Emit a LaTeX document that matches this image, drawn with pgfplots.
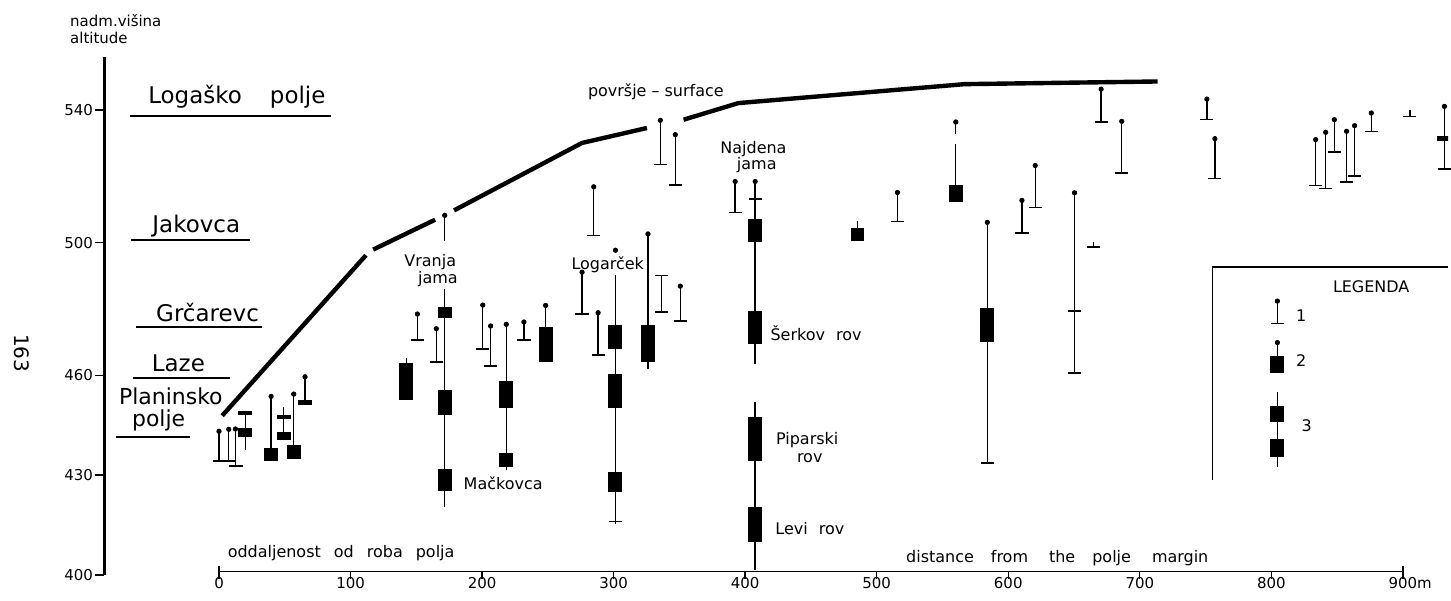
\documentclass[border=0pt]{standalone}
\usepackage{fontspec}
\setmainfont{DejaVu Sans}
\usepackage{pgfplots}
\pgfplotsset{compat=1.18}
\newcommand\fA{\fontsize{11.5}{13}\selectfont}
\newcommand\fAs{\fontsize{11}{12}\selectfont}
\newcommand\fB{\fontsize{8}{9.5}\selectfont}
\newcommand\fC{\fontsize{7.5}{9}\selectfont}
\begin{document}
\begin{tikzpicture}
\begin{axis}[
  width=725.5pt, height=301pt, scale only axis,
  xmin=-166.5, xmax=934.4, ymin=392.19, ymax=573.03,
  hide axis, clip mode=individual,
]
\path (rel axis cs:0,0) rectangle (rel axis cs:1,1);

% surface line (povrsje)
\addplot[black, line width=2.2pt, unbounded coords=jump] coordinates {
(2.4,447.9)(111.7,496.2)(111.7,nan)
(117.2,497.9)(164.3,506.9)(164.3,nan)
(178.7,509.7)(276.0,530.0)(325.3,534.5)(325.3,nan)
(353.2,537.0)(394.9,542.0)(566.9,547.7)(713.6,548.5)
};

% thin vertical lines
\addplot[black, line width=0.7pt, unbounded coords=jump] coordinates {
(0,443.2)(0,434.3)(0,nan)
(7.4,443.8)(7.4,434.3)(7.4,nan)
(12.5,443.9)(12.5,432.8)(12.5,nan)
(20.1,448.7)(20.1,437.6)(20.1,nan)
(39.6,453.7)(39.6,438.1)(39.6,nan)
(49.2,450.5)(49.2,440.5)(49.2,nan)
(56.8,454.4)(56.8,439.1)(56.8,nan)
(65.4,459.6)(65.4,452.0)(65.4,nan)
(142.5,465.4)(142.5,460)(142.5,nan)
(150.8,478.5)(150.8,470.7)(150.8,nan)
(165.2,474.1)(165.2,464.1)(165.2,nan)
(171.6,508.2)(171.6,500.4)(171.6,nan)
(171.6,485.9)(171.6,420.3)(171.6,nan)
(200.5,481.2)(200.5,467.9)(200.5,nan)
(206.5,474.9)(206.5,462.9)(206.5,nan)
(218.4,475.4)(218.4,431.6)(218.4,nan)
(231.8,476.1)(231.8,470.6)(231.8,nan)
(248.3,481.1)(248.3,470)(248.3,nan)
(276.0,491.1)(276.0,478.6)(276.0,nan)
(284.9,516.8)(284.9,502.1)(284.9,nan)
(288.2,478.9)(288.2,466.1)(288.2,nan)
(301.4,490.4)(301.4,415.3)(301.4,nan)
(326.1,502.6)(326.1,461.9)(326.1,nan)
(336.3,490.1)(336.3,479.2)(336.3,nan)
(335.5,536.8)(335.5,523.5)(335.5,nan)
(346.9,532.5)(346.9,517.3)(346.9,nan)
(350.7,486.9)(350.7,476.4)(350.7,nan)
(392.4,518.4)(392.4,509.1)(392.4,nan)
(407.6,518.4)(407.6,463.4)(407.6,nan)
(407.6,451.9)(407.6,401.6)(407.6,nan)
(485.4,506.6)(485.4,503)(485.4,nan)
(515.8,515.1)(515.8,506.3)(515.8,nan)
(560.1,536.3)(560.1,532.8)(560.1,nan)
(560.1,529.8)(560.1,515)(560.1,nan)
(584.1,506.1)(584.1,433.6)(584.1,nan)
(610.4,512.7)(610.4,502.9)(610.4,nan)
(620.5,523.2)(620.5,510.6)(620.5,nan)
(650.4,515.0)(650.4,460.7)(650.4,nan)
(665.0,500.1)(665.0,498.6)(665.0,nan)
(670.6,546.2)(670.6,536.3)(670.6,nan)
(686.3,536.5)(686.3,521.0)(686.3,nan)
(751.0,543.2)(751.0,537.0)(751.0,nan)
(757.1,531.3)(757.1,519.3)(757.1,nan)
(833.7,531.0)(833.7,517.2)(833.7,nan)
(841.3,533.2)(841.3,516.3)(841.3,nan)
(847.9,537.0)(847.9,527.2)(847.9,nan)
(857.2,533.5)(857.2,518.3)(857.2,nan)
(863.3,535.2)(863.3,520.0)(863.3,nan)
(876.0,539.0)(876.0,533.5)(876.0,nan)
(905.3,540.0)(905.3,538.0)(905.3,nan)
(931.6,541.0)(931.6,522.2)(931.6,nan)
(804.6,482.4)(804.6,475.7)(804.6,nan)
(804.6,469.9)(804.6,462)(804.6,nan)
(804.6,454.9)(804.6,432.4)
};

% filled rectangles (thick segments)
\addplot[black, line width=7pt, unbounded coords=jump] coordinates {
(20.1,441.4)(20.1,444.1)(20.1,nan)
(20.1,448.1)(20.1,449.3)(20.1,nan)
(39.6,434.3)(39.6,438.1)(39.6,nan)
(49.2,446.9)(49.2,448.1)(49.2,nan)
(49.2,440.6)(49.2,442.9)(49.2,nan)
(56.8,434.8)(56.8,439.1)(56.8,nan)
(65.4,451.2)(65.4,452.7)(65.4,nan)
(142.5,452.7)(142.5,463.9)(142.5,nan)
(171.6,477.4)(171.6,480.6)(171.6,nan)
(171.6,448.1)(171.6,455.6)(171.6,nan)
(171.6,425.3)(171.6,431.8)(171.6,nan)
(218.4,450.1)(218.4,458.4)(218.4,nan)
(218.4,432.6)(218.4,436.6)(218.4,nan)
(248.3,464.2)(248.3,474.7)(248.3,nan)
(301.4,468.1)(301.4,475.2)(301.4,nan)
(301.4,450.1)(301.4,460.6)(301.4,nan)
(301.4,425.0)(301.4,431.0)(301.4,nan)
(326.1,464.2)(326.1,475.2)(326.1,nan)
(407.6,500.1)(407.6,507.2)(407.6,nan)
(407.6,469.4)(407.6,479.4)(407.6,nan)
(407.6,434.3)(407.6,447.4)(407.6,nan)
(407.6,410.0)(407.6,420.3)(407.6,nan)
(485.4,500.4)(485.4,504.4)(485.4,nan)
(560.1,512.3)(560.1,517.2)(560.1,nan)
(584.1,470.2)(584.1,480.4)(584.1,nan)
(931.6,530.5)(931.6,532.2)(931.6,nan)
(804.6,460.9)(804.6,465.9)(804.6,nan)
(804.6,445.9)(804.6,450.9)(804.6,nan)
(804.6,435.4)(804.6,440.9)
};

% dots at the top of the sticks
\addplot[black, only marks, mark=*, mark size=1.1pt] coordinates {
(0,443.2)(7.4,443.8)(12.5,443.9)(39.6,453.7)(56.8,454.4)(65.4,459.6)
(150.8,478.5)(165.2,474.1)(171.6,508.2)(200.5,481.2)(206.5,474.9)
(218.4,475.4)(231.8,476.1)(248.3,481.1)(276.0,491.1)(284.9,516.8)
(288.2,478.9)(301.4,497.7)(326.1,502.6)(335.5,536.8)(346.9,532.5)
(350.7,486.9)(392.4,518.4)(407.6,518.4)(515.8,515.1)(560.1,536.3)
(584.1,506.1)(610.4,512.7)(620.5,523.2)(650.4,515.0)(670.6,546.2)
(686.3,536.5)(751.0,543.2)(757.1,531.3)(833.7,531.0)(841.3,533.2)
(847.9,537.0)(857.2,533.5)(863.3,535.2)(876.0,539.0)(931.6,541.0)
(804.6,482.4)(804.6,469.9)
};

% horizontal bars at the bottom of the sticks
\addplot[black, only marks, mark=-, mark size=3.3pt, mark options={line width=0.8pt}] coordinates {
(0.4,434.3)(8,434.3)(12.9,432.8)(150.8,470.7)(165.2,464.1)(200.5,467.9)
(206.5,462.9)(231.8,470.6)(284.9,502.1)(276.0,478.6)(288.2,466.1)
(301.4,416.0)(336.3,490.1)(336.3,479.2)(335.5,523.5)(346.9,517.3)
(350.7,476.4)(392.4,509.1)(407.6,513.2)(515.8,506.3)(584.1,433.6)
(610.4,502.9)(620.5,510.6)(650.4,479.4)(650.4,460.7)(665.0,498.6)
(670.6,536.3)(686.3,521.0)(751.0,537.0)(757.1,519.3)(833.7,517.2)
(841.3,516.3)(847.9,527.2)(857.2,518.3)(863.3,520.0)(876.0,533.5)
(905.3,538.0)(931.6,522.2)(804.6,475.7)
};

% y axis
\draw[line width=1.5pt] (axis cs:-87.4,400) -- (axis cs:-87.4,556);
\pgfplotsinvokeforeach{400,430,460,500,540}{
  \draw[line width=0.8pt] (axis cs:-94.4,#1) -- (axis cs:-87.4,#1);
  \node[anchor=east, inner sep=0pt, font=\fC] at (axis cs:-95.5,#1) {#1};
}
\node[anchor=base west, inner sep=0pt, font=\fC] at (axis cs:-113.4,565.0) {nadm.višina};
\node[anchor=base west, inner sep=0pt, font=\fC] at (axis cs:-113.4,560.0) {altitude};
\node[rotate=-90, inner sep=0pt, font=\fontsize{10}{12}\selectfont] at (axis cs:-149.8,466.7) {163};

% x axis
\draw[line width=0.7pt] (axis cs:0,401) -- (axis cs:900,401);
\draw[line width=0.7pt] (axis cs:0,398.8) -- (axis cs:0,402.6);
\draw[line width=0.7pt] (axis cs:900,398.8) -- (axis cs:900,402.6);
\pgfplotsinvokeforeach{100,200,300,400,500,600,700,800}{
  \draw[line width=0.7pt] (axis cs:#1,401) -- (axis cs:#1,398.8);
}
\pgfplotsinvokeforeach{0,100,200,300,400,500,600,700,800}{
  \node[anchor=base, inner sep=0pt, font=\fC] at (axis cs:#1,395.8) {#1};
}
\node[anchor=base, inner sep=0pt, font=\fC] at (axis cs:900,395.8) {900\rlap{m}};
\node[anchor=base west, inner sep=0pt, font=\fB] at (axis cs:6.4,405.3)
  {oddaljenost\hspace{4pt} od\hspace{4pt} roba\hspace{4pt} polja};
\node[anchor=base west, inner sep=0pt, font=\fB] at (axis cs:522.1,403.6)
  {distance\hspace{6pt} from\hspace{8pt} the\hspace{6pt} polje\hspace{8pt} margin};

% left level labels
\draw[line width=0.9pt] (axis cs:-67.4,538.2) -- (axis cs:85.1,538.2);
\draw[line width=0.9pt] (axis cs:-66.6,500.7) -- (axis cs:23.5,500.7);
\draw[line width=0.9pt] (axis cs:-63.3,474.7) -- (axis cs:32.5,474.7);
\draw[line width=0.9pt] (axis cs:-65.4,459.3) -- (axis cs:8.0,459.3);
\draw[line width=0.9pt] (axis cs:-78.0,441.5) -- (axis cs:-21.8,441.5);
\node[anchor=base, inner sep=0pt, font=\fA] at (axis cs:-18.2,541.8) {Logaško};
\node[anchor=base, inner sep=0pt, font=\fA] at (axis cs:59.8,541.8) {polje};
\node[anchor=base, inner sep=0pt, font=\fA] at (axis cs:-17.3,503.0) {Jakovca};
\node[anchor=base, inner sep=0pt, font=\fA] at (axis cs:-8.7,476.4) {Grčarevc};
\node[anchor=base, inner sep=0pt, font=\fA] at (axis cs:-30.9,461.1) {Laze};
\node[anchor=base, inner sep=0pt, font=\fAs] at (axis cs:-36.6,451.2) {Planinsko};
\node[anchor=base, inner sep=0pt, font=\fAs] at (axis cs:-45.9,444.5) {polje};

% cave labels
\node[anchor=base, inner sep=0pt, font=\fB] at (axis cs:160.6,492.7) {Vranja};
\node[anchor=base, inner sep=0pt, font=\fB] at (axis cs:166.4,487.7) {jama};
\node[anchor=base, inner sep=0pt, font=\fB] at (axis cs:216.0,425.6) {Mačkovca};
\node[anchor=base, inner sep=0pt, font=\fB] at (axis cs:295.5,491.9) {Logarček};
\node[anchor=base, inner sep=0pt, font=\fB] at (axis cs:332.1,544.0) {površje – surface};
\node[anchor=base, inner sep=0pt, font=\fB] at (axis cs:406.3,526.8) {Najdena};
\node[anchor=base, inner sep=0pt, font=\fB] at (axis cs:408.8,522.0) {jama};
\node[anchor=base west, inner sep=0pt, font=\fB] at (axis cs:419.0,470.4) {Šerkov\hspace{3pt} rov};
\node[anchor=base west, inner sep=0pt, font=\fB] at (axis cs:423.2,439.1) {Piparski};
\node[anchor=base west, inner sep=0pt, font=\fB] at (axis cs:439.1,433.9) {rov};
\node[anchor=base west, inner sep=0pt, font=\fB] at (axis cs:422.7,412.0) {Levi\hspace{3pt} rov};

% legend box
\draw[line width=0.8pt] (axis cs:755.2,428.6) -- (axis cs:755.2,492.7) -- (axis cs:934.4,492.7);
\node[anchor=base, inner sep=0pt, font=\fB] at (axis cs:875.9,484.9) {LEGENDA};
\node[anchor=base, inner sep=0pt, font=\fB] at (axis cs:822.8,476.4) {1};
\node[anchor=base, inner sep=0pt, font=\fB] at (axis cs:822.8,462.7) {2};
\node[anchor=base, inner sep=0pt, font=\fB] at (axis cs:826.8,443.0) {3};
\end{axis}
\end{tikzpicture}
\end{document}
